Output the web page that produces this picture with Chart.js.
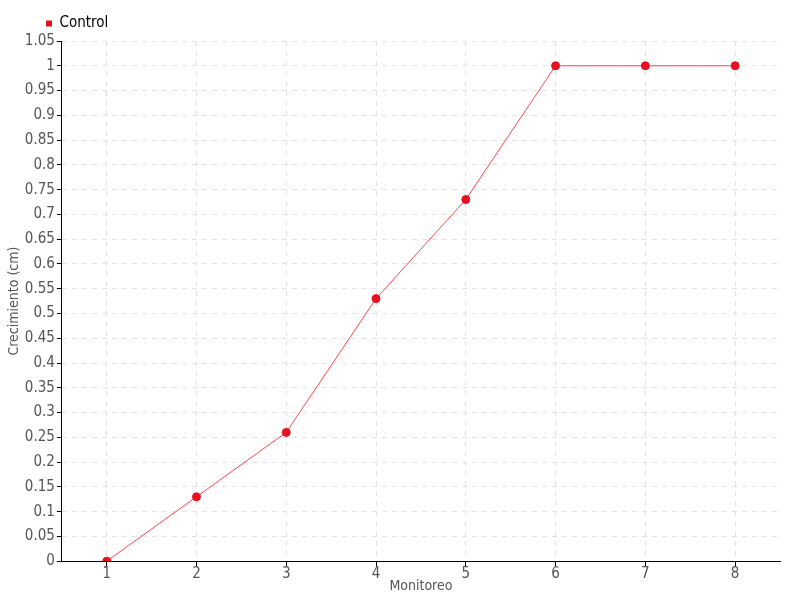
<!DOCTYPE html>
<html>
<head>
<meta charset="utf-8">
<script src="https://cdn.jsdelivr.net/npm/chart.js@4/dist/chart.umd.min.js"></script>
<style>
  body { margin: 0; background: #fff; }
  #wrap { width: 800px; height: 600px; }
</style>
</head>
<body>
<div id="wrap"><canvas id="growthChart"></canvas></div>
<script>
// data
const monitoreo = ['1', '2', '3', '4', '5', '6', '7', '8'];
const control = [0, 0.13, 0.26, 0.53, 0.73, 1, 1, 1];

// the original uses a tall narrow face; ask canvas for a condensed stretch
const FAMILY = "'DejaVu Sans Condensed', 'DejaVu Sans', sans-serif";
Chart.defaults.font.family = FAMILY;
Chart.defaults.font.weight = 'condensed';
Chart.defaults.font.size = 15;
Chart.defaults.color = '#555';

// move the legend right so it sits over the y axis like the original
const legendShift = {
    id: 'legendShift',
    afterUpdate(chart) {
        chart.legend.left += 32;
        chart.legend.right += 32;
    }
};

const ctx = document.getElementById('growthChart').getContext('2d');
const growthChart = new Chart(ctx, {
    type: 'line',
    data: {
        labels: monitoreo,
        datasets: [{
            label: 'Control',
            data: control,
            borderColor: '#ff4455',
            borderWidth: 1,
            backgroundColor: '#e8101e',
            pointBackgroundColor: '#e8101e',
            pointBorderColor: '#e8101e',
            pointRadius: 4,
            tension: 0,
            fill: false
        }]
    },
    plugins: [legendShift],
    options: {
        responsive: true,
        maintainAspectRatio: false,
        animation: false,
        layout: { padding: { left: 6, right: 20, top: 8, bottom: 0 } },
        plugins: {
            legend: {
                align: 'start',
                labels: {
                    boxWidth: 6,
                    boxHeight: 6,
                    padding: 8,
                    color: '#444',
                    font: { family: FAMILY, weight: 'condensed', size: 15 },
                    generateLabels: () => [{
                        text: 'Control',
                        fillStyle: '#e8101e',
                        strokeStyle: '#e8101e',
                        lineWidth: 0,
                        datasetIndex: 0
                    }]
                }
            },
            tooltip: { enabled: false }
        },
        scales: {
            x: {
                offset: true,
                title: {
                    display: true, text: 'Monitoreo',
                    padding: { top: -4, bottom: 5 },
                    font: { family: FAMILY, weight: 'condensed', size: 14 }
                },
                grid: {
                    offset: false,
                    color: '#e2e2e2',
                    tickColor: '#000',
                    tickLength: 5
                },
                border: { color: '#000', width: 1, dash: [5, 5] },
                ticks: { padding: -1, font: { family: FAMILY, weight: 'condensed', size: 15 } }
            },
            y: {
                min: 0,
                max: 1.05,
                title: {
                    display: true, text: 'Crecimiento (cm)', padding: 0,
                    font: { family: FAMILY, weight: 'condensed', size: 14 }
                },
                grid: {
                    color: '#e2e2e2',
                    tickColor: '#000',
                    tickLength: 5
                },
                border: { color: '#000', width: 1, dash: [5, 5] },
                ticks: {
                    stepSize: 0.05,
                    padding: 2,
                    font: { family: FAMILY, weight: 'condensed', size: 15 },
                    callback: (v) => String(parseFloat(v.toFixed(2)))
                }
            }
        }
    }
});
</script>
</body>
</html>
